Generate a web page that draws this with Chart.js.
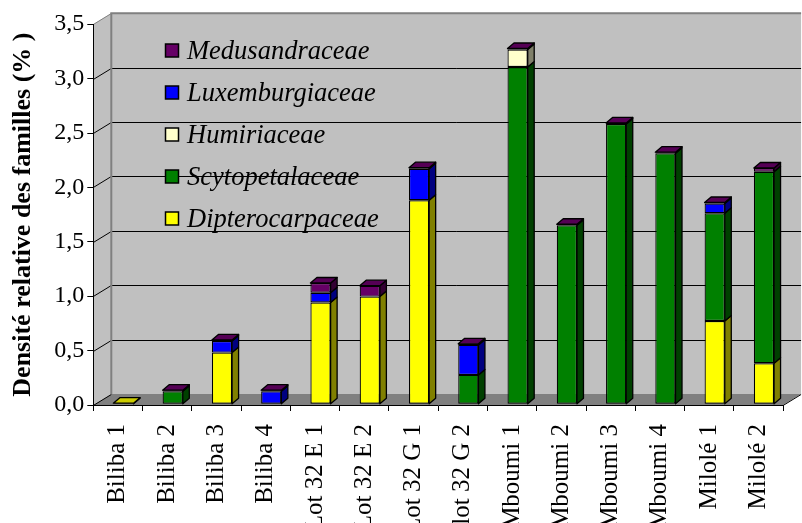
<!DOCTYPE html>
<html>
<head>
<meta charset="utf-8">
<script src="https://cdn.jsdelivr.net/npm/chart.js@4.4.0/dist/chart.umd.min.js"></script>
<style>
  body { margin: 0; background: #fff; }
</style>
</head>
<body>
<canvas id="densiteChart" width="802" height="523"></canvas>
<script>
const sites = ['Biliba 1', 'Biliba 2', 'Biliba 3', 'Biliba 4', 'Lot 32 E 1', 'Lot 32 E 2', 'Lot 32 G 1',
  'lot 32 G 2', 'Mboumi 1', 'Mboumi 2', 'Mboumi 3', 'Mboumi 4', 'Milolé 1', 'Milolé 2'];

// relative density (%) per family, stacked bottom to top
const dipterocarpaceae = [0.01, 0, 0.475, 0, 0.935, 0.99, 1.875, 0, 0, 0, 0, 0, 0.766, 0.377];
const scytopetalaceae  = [0, 0.12, 0, 0, 0, 0, 0, 0.27, 3.10, 1.645, 2.576, 2.307, 0.99, 1.76];
const humiriaceae      = [0, 0, 0, 0, 0, 0, 0, 0, 0.16, 0, 0, 0, 0, 0];
const luxemburgiaceae  = [0, 0, 0.107, 0.12, 0.09, 0, 0.29, 0.276, 0, 0, 0, 0, 0.089, 0];
const medusandraceae   = [0, 0.01, 0.01, 0.01, 0.09, 0.10, 0.01, 0.01, 0.01, 0.01, 0.01, 0.01, 0.01, 0.035];

const yTicks = [0, 0.5, 1, 1.5, 2, 2.5, 3, 3.5];

const SERIF = "'Liberation Serif', 'Times New Roman', serif";

// depth of the room walls and of each column
const WALL_DX = 18, WALL_DY = -11;
const BAR_DX = 6.5, BAR_DY = -5.5;
const SHIFT_X = 5.5, SHIFT_Y = -0.7;

const colors = {
  front: ['#ffff00', '#008000', '#ffffcc', '#0000ff', '#660066'],
  side:  ['#808000', '#004000', '#80806a', '#000080', '#330033'],
  top:   ['#cccc00', '#006600', '#e0e0b0', '#0000cc', '#550055']
};

function poly(ctx, pts, fill, stroke, lw) {
  ctx.beginPath();
  ctx.moveTo(pts[0][0], pts[0][1]);
  for (let i = 1; i < pts.length; i++) ctx.lineTo(pts[i][0], pts[i][1]);
  ctx.closePath();
  if (fill) { ctx.fillStyle = fill; ctx.fill(); }
  if (stroke) { ctx.strokeStyle = stroke; ctx.lineWidth = lw || 1; ctx.stroke(); }
}

// walls, floor and gridlines behind the columns
const room3d = {
  id: 'room3d',
  beforeDraw(chart) {
    const { ctx, chartArea: a, scales: { y } } = chart;
    const L = a.left, R = a.right, T = a.top, B = a.bottom;
    ctx.save();
    ctx.fillStyle = '#fff';
    ctx.fillRect(0, 0, chart.width, chart.height);

    poly(ctx, [[L + WALL_DX, T + WALL_DY], [R + WALL_DX, T + WALL_DY], [R + WALL_DX, B + WALL_DY], [L + WALL_DX, B + WALL_DY]], '#c0c0c0');
    poly(ctx, [[L, T], [L + WALL_DX, T + WALL_DY], [L + WALL_DX, B + WALL_DY], [L, B]], '#c0c0c0');
    poly(ctx, [[L, B], [L + WALL_DX, B + WALL_DY], [R + WALL_DX, B + WALL_DY], [R, B]], '#808080');

    ctx.lineWidth = 1;
    yTicks.forEach(v => {
      const py = Math.round(y.getPixelForValue(v)) + 0.5;
      ctx.strokeStyle = (v === 3.5) ? '#808080' : '#000';
      ctx.beginPath();
      ctx.moveTo(L, py);
      ctx.lineTo(L + WALL_DX, py + WALL_DY);
      if (v > 0 && v < 3.5) ctx.lineTo(R + WALL_DX, py + WALL_DY);
      ctx.stroke();
    });

    // wall edges
    ctx.strokeStyle = '#808080';
    ctx.lineWidth = 2;
    ctx.beginPath();
    ctx.moveTo(L + WALL_DX, B + WALL_DY);
    ctx.lineTo(L + WALL_DX, T + WALL_DY);
    ctx.lineTo(R + WALL_DX, T + WALL_DY);
    ctx.stroke();
    ctx.lineWidth = 1;
    ctx.strokeStyle = '#000';
    ctx.beginPath();
    ctx.moveTo(R, B + 0.5);
    ctx.lineTo(R + WALL_DX, B + WALL_DY + 0.5);
    ctx.stroke();
    ctx.restore();
  }
};

// side and top faces of the stacked columns
const bars3d = {
  id: 'bars3d',
  beforeDatasetsDraw(chart) {
    chart.ctx.save();
    chart.ctx.translate(SHIFT_X, SHIFT_Y);
  },
  afterDatasetsDraw(chart) {
    const ctx = chart.ctx;
    const datasets = chart.data.datasets;
    ctx.lineJoin = 'round';
    for (let k = 0; k < chart.data.labels.length; k++) {
      let topFace = null;
      datasets.forEach((ds, i) => {
        if (!ds.data[k]) return;
        const el = chart.getDatasetMeta(i).data[k];
        const { x, y, base, width } = el.getProps(['x', 'y', 'base', 'width'], true);
        const left = x - width / 2, right = x + width / 2;
        const top = Math.min(y, base), bottom = Math.max(y, base);
        poly(ctx, [[right, top], [right + BAR_DX, top + BAR_DY], [right + BAR_DX, bottom + BAR_DY], [right, bottom]],
          colors.side[i], '#000', 1.3);
        topFace = { i, left, right, top };
      });
      if (topFace) {
        const { i, left, right, top } = topFace;
        poly(ctx, [[left, top], [left + BAR_DX, top + BAR_DY], [right + BAR_DX, top + BAR_DY], [right, top]],
          colors.top[i], '#000', 1.3);
      }
    }
    ctx.restore();
  }
};

// legend inside the plot, top series first
const legendBox = {
  id: 'legendBox',
  afterDraw(chart) {
    const ctx = chart.ctx;
    const ds = chart.data.datasets;
    ctx.save();
    ctx.font = 'italic 26.5px ' + SERIF;
    ctx.textBaseline = 'middle';
    for (let r = 0; r < ds.length; r++) {
      const i = ds.length - 1 - r;
      const cy = 51 + r * 42;
      ctx.fillStyle = ds[i].backgroundColor;
      ctx.fillRect(165.5, cy - 7, 13, 13);
      ctx.strokeStyle = '#000';
      ctx.lineWidth = 1.5;
      ctx.strokeRect(165.5, cy - 7, 13, 13);
      ctx.fillStyle = '#000';
      ctx.fillText(ds[i].label, 187, cy + 1);
    }
    ctx.restore();
  }
};

const familyNames = ['Dipterocarpaceae', 'Scytopetalaceae', 'Humiriaceae', 'Luxemburgiaceae', 'Medusandraceae'];
const familyValues = [dipterocarpaceae, scytopetalaceae, humiriaceae, luxemburgiaceae, medusandraceae];

new Chart(document.getElementById('densiteChart'), {
  type: 'bar',
  data: {
    labels: sites,
    datasets: familyNames.map((name, i) => ({
      label: name,
      data: familyValues[i],
      backgroundColor: colors.front[i],
      borderColor: '#000',
      borderWidth: 1.2,
      borderSkipped: false,
      barPercentage: 0.82,
      categoryPercentage: 0.5
    }))
  },
  options: {
    responsive: false,
    animation: false,
    clip: false,
    layout: { padding: { top: 24.2, right: 15.3, left: 0, bottom: 0 } },
    plugins: {
      legend: { display: false },
      tooltip: { enabled: false }
    },
    scales: {
      x: {
        stacked: true,
        afterFit: (scale) => { scale.height = 118; },
        grid: { drawOnChartArea: false, drawTicks: true, tickLength: 6, color: '#000', offset: true },
        border: { display: true, color: '#000', width: 1 },
        ticks: {
          autoSkip: false,
          minRotation: 90,
          maxRotation: 90,
          padding: 13,
          color: '#000',
          font: { family: SERIF, size: 25 }
        }
      },
      y: {
        stacked: true,
        min: 0,
        max: 3.5,
        afterFit: (scale) => { scale.width = 93.3; },
        grid: { drawOnChartArea: false, drawTicks: true, tickLength: 6, color: '#000' },
        border: { display: true, color: '#000', width: 1 },
        ticks: {
          stepSize: 0.5,
          padding: 3,
          color: '#000',
          font: { family: SERIF, size: 24 },
          callback: (v) => Number(v).toFixed(1).replace('.', ',')
        },
        title: {
          display: true,
          text: 'Densité relative des familles (% )',
          color: '#000',
          padding: { top: 8, bottom: 0 },
          font: { family: SERIF, size: 26, weight: 'bold' }
        }
      }
    }
  },
  plugins: [room3d, bars3d, legendBox]
});
</script>
</body>
</html>
